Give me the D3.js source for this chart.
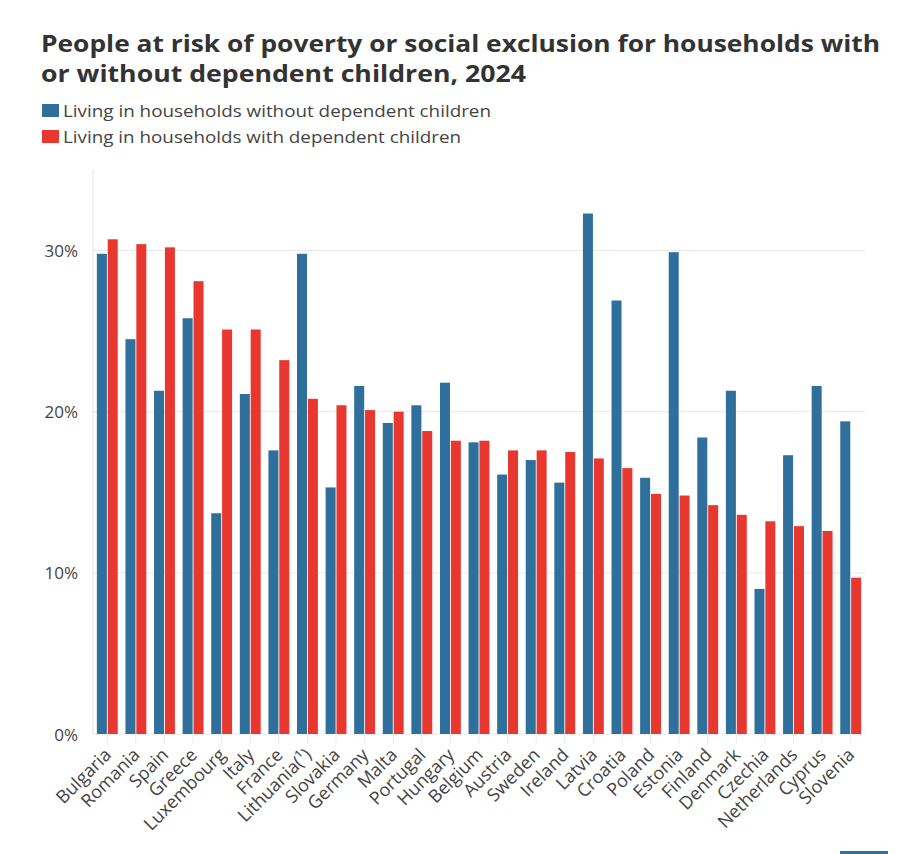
<!DOCTYPE html>
<html>
<head>
<meta charset="utf-8">
<script src="https://cdn.jsdelivr.net/npm/d3@7"></script>
<style>
  body { margin: 0; background: #fff; }
  text { font-family: "Open Sans", sans-serif; }
</style>
</head>
<body>
<svg id="chart" width="900" height="854" viewBox="0 0 900 854"></svg>
<script>
// data (percent of population)
const countries = ["Bulgaria", "Romania", "Spain", "Greece", "Luxembourg", "Italy", "France",
  "Lithuania(¹)", "Slovakia", "Germany", "Malta", "Portugal", "Hungary", "Belgium", "Austria",
  "Sweden", "Ireland", "Latvia", "Croatia", "Poland", "Estonia", "Finland", "Denmark",
  "Czechia", "Netherlands", "Cyprus", "Slovenia"];
const withoutChildren = [29.8, 24.5, 21.3, 25.8, 13.7, 21.1, 17.6, 29.8, 15.3, 21.6, 19.3, 20.4, 21.8,
  18.1, 16.1, 17.0, 15.6, 32.3, 26.9, 15.9, 29.9, 18.4, 21.3, 9.0, 17.3, 21.6, 19.4];
const withChildren = [30.7, 30.4, 30.2, 28.1, 25.1, 25.1, 23.2, 20.8, 20.4, 20.1, 20.0, 18.8, 18.2,
  18.2, 17.6, 17.6, 17.5, 17.1, 16.5, 14.9, 14.8, 14.2, 13.6, 13.2, 12.9, 12.6, 9.7];
const seriesNames = ["Living in households without dependent children",
  "Living in households with dependent children"];
const seriesColors = ["#2e6f9c", "#e8372f"];
const yTicks = [0, 10, 20, 30];

const svg = d3.select("#chart");
const margin = { left: 93, right: 35, top: 170, bottom: 120 };
const width = 900, height = 854;

// title
const title = svg.append("g").attr("fill", "#333").attr("font-weight", 700).attr("font-size", 24);
title.append("text").attr("x", 41).attr("y", 52).attr("textLength", 839).attr("lengthAdjust", "spacingAndGlyphs")
  .text("People at risk of poverty or social exclusion for households with");
title.append("text").attr("x", 41).attr("y", 82).attr("textLength", 485).attr("lengthAdjust", "spacingAndGlyphs")
  .text("or without dependent children, 2024");

// legend
const legend = svg.append("g").selectAll("g").data(seriesNames).join("g")
  .attr("transform", (d, i) => `translate(42, ${104 + i * 26})`);
legend.append("rect").attr("width", 17).attr("height", 13).attr("fill", (d, i) => seriesColors[i]);
legend.append("text").attr("x", 21).attr("y", 13).attr("font-size", 17).attr("fill", "#444")
  .attr("textLength", (d, i) => i === 0 ? 428 : 398).attr("lengthAdjust", "spacingAndGlyphs")
  .text(d => d);

const x = d3.scaleBand().domain(countries).range([margin.left, width - margin.right]).paddingInner(0.27).paddingOuter(0.135);
const xs = d3.scaleBand().domain([0, 1]).range([0, x.bandwidth()]).paddingInner(0.08);
const y = d3.scaleLinear().domain([0, 35]).range([734, margin.top]);

// grid
svg.append("g").selectAll("line").data(yTicks).join("line")
  .attr("x1", margin.left).attr("x2", width - margin.right)
  .attr("y1", d => y(d)).attr("y2", d => y(d))
  .attr("stroke", "#e8e8e8");
svg.append("line").attr("x1", margin.left).attr("x2", margin.left)
  .attr("y1", margin.top).attr("y2", y(0)).attr("stroke", "#e3e3e3");

// y axis labels
svg.append("g").selectAll("text").data(yTicks).join("text")
  .attr("x", 78).attr("y", d => y(d) + 6.5).attr("text-anchor", "end")
  .attr("font-size", 17).attr("fill", "#444").text(d => d + "%");

// x ticks
svg.append("g").selectAll("line").data(countries).join("line")
  .attr("x1", d => x(d) + x.bandwidth() / 2).attr("x2", d => x(d) + x.bandwidth() / 2)
  .attr("y1", y(0)).attr("y2", y(0) + 10).attr("stroke", "#ececec");

// bars
const groups = svg.append("g").selectAll("g").data(countries).join("g")
  .attr("transform", d => `translate(${x(d)},0)`);
groups.selectAll("rect").data((d, i) => [withoutChildren[i], withChildren[i]]).join("rect")
  .attr("x", (d, j) => xs(j)).attr("width", xs.bandwidth())
  .attr("y", d => y(d)).attr("height", d => y(0) - y(d))
  .attr("fill", (d, j) => seriesColors[j]);

// x labels
svg.append("g").selectAll("text").data(countries).join("text")
  .attr("transform", d => `translate(${x(d) + x.bandwidth() / 2 + 5},${y(0) + 22}) rotate(-45)`)
  .attr("text-anchor", "end").attr("font-size", 18).attr("fill", "#444")
  .text(d => d);

// small mark bottom right
svg.append("rect").attr("x", 840).attr("y", 851).attr("width", 48).attr("height", 3).attr("fill", "#2e6f9c");
</script>
</body>
</html>
